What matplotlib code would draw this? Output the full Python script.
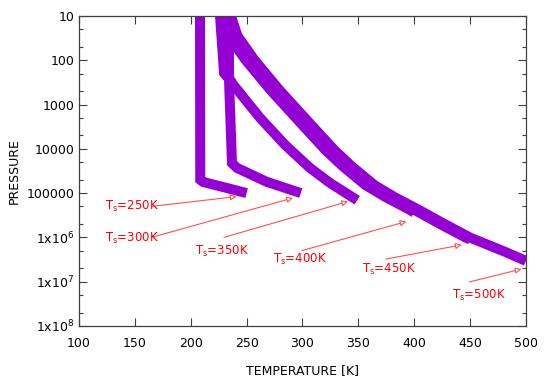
import matplotlib
matplotlib.use("Agg")
import matplotlib.pyplot as plt
from matplotlib.ticker import NullFormatter, LogLocator

# temperature profiles (T [K], pressure) for each surface temperature
t_250 = [208.3, 208.5, 211.0, 250.0]
p_250 = [10, 5.0e4, 5.6e4, 1.0e5]

t_300 = [226.2, 229.8, 234.2, 236.9, 241.4, 268.2, 298.5]
p_300 = [10, 195, 263, 2.1e4, 2.7e4, 5.6e4, 1.0e5]

t_350 = [234.2, 234.2, 237.8, 262.0, 284.3, 306.7, 324.6, 349.0]
p_350 = [10, 250, 350, 2.0e3, 8.1e3, 2.7e4, 5.9e4, 1.45e5]

t_400 = [232.0, 233.8, 249.0, 271.4, 295.6, 320.6, 335.8, 356.4, 374.3, 394.9, 400.0]
p_400 = [10, 28, 98, 470, 2.2e3, 1.07e4, 2.45e4, 6.6e4, 1.23e5, 2.3e5, 2.75e5]

t_450 = [234.0, 237.8, 253.0, 275.4, 299.6, 324.6, 339.8, 360.4, 378.3, 398.9, 423.1, 446.3, 450.0]
p_450 = [10, 28, 98, 470, 2.2e3, 1.07e4, 2.45e4, 6.6e4, 1.23e5, 2.3e5, 5.0e5, 1.02e6, 1.12e6]

t_500 = [236.0, 241.8, 257.0, 279.4, 303.6, 328.6, 343.8, 364.4, 382.3, 402.9, 427.1, 450.3, 480.8, 500.0]
p_500 = [10, 28, 98, 470, 2.2e3, 1.07e4, 2.45e4, 6.6e4, 1.23e5, 2.3e5, 5.0e5, 1.02e6, 2.1e6, 3.4e6]

profiles = [(t_250, p_250), (t_300, p_300), (t_350, p_350),
            (t_400, p_400), (t_450, p_450), (t_500, p_500)]

# labels: text, text position, arrow tail, arrow head
label_text = ["250K", "300K", "350K", "400K", "450K", "500K"]
label_xy = [(123.3, 2.0e5), (123.3, 1.05e6), (203.8, 2.1e6), (273.3, 3.1e6), (353.0, 5.2e6), (433.5, 2.05e7)]
arrow_tail = [(165.0, 2.0e5), (165.0, 1.0e6), (229.8, 1.0e6), (299.3, 2.0e6), (374.8, 3.1e6), (449.4, 1.02e7)]
arrow_head = [(241.0, 1.2e5), (291.5, 1.29e5), (340.8, 1.55e5), (393.0, 4.4e5), (442.5, 1.48e6), (496.0, 5.2e6)]

yticks = [10, 100, 1000, 1e4, 1e5, 1e6, 1e7, 1e8]
ytick_labels = ["10", "100", "1000", "10000", "100000",
                r"1x10$^{6}$", r"1x10$^{7}$", r"1x10$^{8}$"]
xticks = [100, 150, 200, 250, 300, 350, 400, 450, 500]

purple = "#9400d3"
frame = "#404040"

fig = plt.figure(figsize=(5.45, 3.82), dpi=100)
ax = fig.add_axes([0.145, 0.147, 0.82, 0.811])

for t, p in profiles:
    ax.plot(t, p, color=purple, lw=7.2, solid_capstyle="butt", solid_joinstyle="miter")

for txt, xy, tail, head in zip(label_text, label_xy, arrow_tail, arrow_head):
    ax.annotate("", xy=head, xytext=tail,
                arrowprops=dict(arrowstyle="-|>", color="#ff5050", lw=0.8,
                                fc="white", mutation_scale=9,
                                shrinkA=0, shrinkB=0))
    ax.text(xy[0], xy[1], r"T$_{\rm s}$=" + txt, color="#ff0000", fontsize=8.5,
            ha="left", va="center")

ax.set_yscale("log")
ax.set_xlim(100, 500)
ax.set_ylim(1e8, 10)
ax.set_xticks(xticks)
ax.set_yticks(yticks)
ax.set_yticklabels(ytick_labels)
ax.yaxis.set_minor_locator(LogLocator(base=10, subs=(2, 5), numticks=20))
ax.yaxis.set_minor_formatter(NullFormatter())

ax.tick_params(which="both", direction="in", top=True, right=True, colors=frame,
               labelcolor="black", labelsize=9, width=0.8)
ax.tick_params(which="major", length=6)
ax.tick_params(which="minor", length=3)
ax.tick_params(axis="x", pad=8)
for s in ax.spines.values():
    s.set_color(frame)
    s.set_linewidth(0.9)

ax.set_xlabel("TEMPERATURE [K]", fontsize=9, labelpad=10)
ax.set_ylabel("PRESSURE", fontsize=9, labelpad=4)

fig.savefig("out.png", dpi=100)
